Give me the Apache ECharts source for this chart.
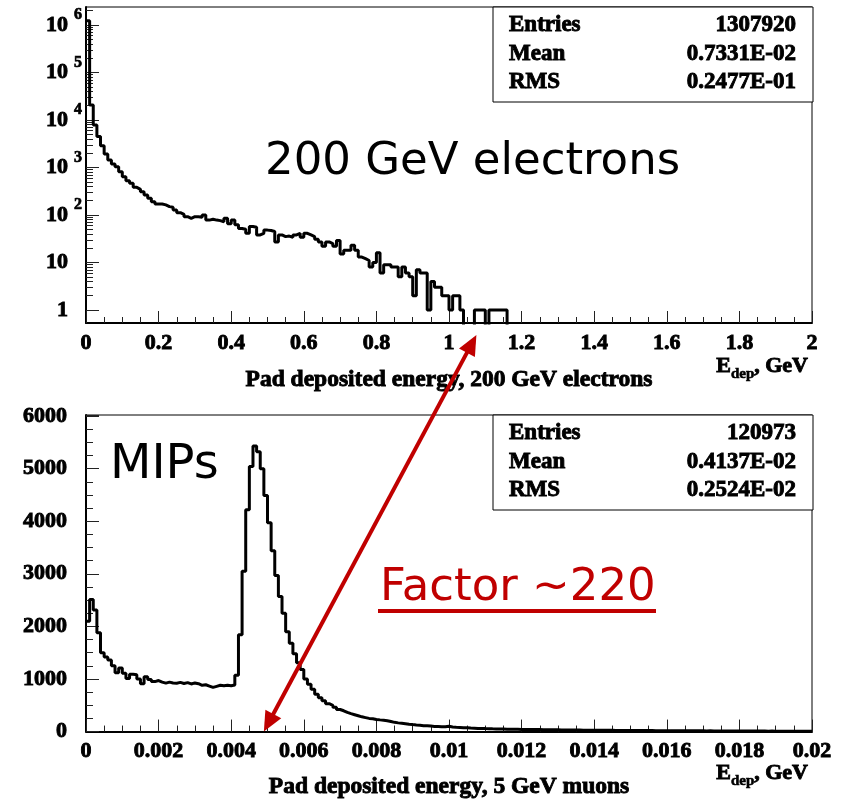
<!DOCTYPE html>
<html><head><meta charset="utf-8">
<script src="https://cdn.jsdelivr.net/npm/echarts@6/dist/echarts.min.js"></script>
<style>html,body{margin:0;padding:0;background:#fff}#c{width:846px;height:800px}</style>
</head><body><div id="c"></div>
<script>
// ---------- data ----------
const topBinWidth = 0.01;      // GeV, 200 bins on [0,2]
const topCounts = [
 1230000, 20700, 7850, 4470, 2880, 1920, 1440, 1185, 1040, 817,
 641, 527, 464, 382, 347, 310, 264, 224, 191, 170,
 170, 163, 150, 146, 127, 112, 103, 92, 85, 92,
 92, 90, 100, 78, 81, 78, 76, 72, 85, 65,
 78, 62, 52, 50, 41, 57, 55, 38, 41, 48,
 47, 45, 27, 38, 35, 36, 34, 38, 41, 34,
 41, 38, 35, 31, 27, 22, 27, 25, 22, 29,
 15, 18, 18, 23, 18, 13, 12, 11, 8, 10,
 16, 6, 9, 9, 8, 8, 5, 8, 6, 5,
 2, 7, 6, 6, 1, 4, 3, 3, 2, 2,
 1, 2, 2, 1, 0, 0, 0, 1, 1, 1,
 0, 1, 1, 1, 1, 1, 0, 0, 0, 0,
 0, 0, 0, 0, 0, 0, 0, 0, 0, 0,
 0, 0, 0, 0, 0, 0, 0, 0, 0, 0,
 0, 0, 0, 0, 0, 0, 0, 0, 0, 0,
 0, 0, 0, 0, 0, 0, 0, 0, 0, 0,
 0, 0, 0, 0, 0, 0, 0, 0, 0, 0,
 0, 0, 0, 0, 0, 0, 0, 0, 0, 0,
 0, 0, 0, 0, 0, 0, 0, 0, 0, 0,
 0, 0, 0, 0, 0, 0, 0, 0, 0, 0
];
const botBinWidth = 0.0001;    // GeV, 200 bins on [0,0.02]
const botCounts = [
 2100, 2510, 2310, 1880, 1500, 1420, 1360, 1250, 1120, 1210,
 1110, 1010, 1090, 1080, 1000, 910, 1040, 990, 950, 970,
 940, 920, 940, 925, 920, 935, 915, 930, 905, 925,
 910, 880, 890, 865, 840, 860, 880, 870, 880, 870,
 885, 1070, 1840, 3050, 4220, 5040, 5430, 5320, 5000, 4490,
 3970, 3440, 2970, 2570, 2250, 1900, 1680, 1480, 1310, 1180,
 1000, 900, 805, 710, 645, 585, 530, 500, 460, 420,
 395, 365, 340, 320, 300, 280, 265, 250, 245, 230,
 222, 215, 205, 190, 175, 165, 158, 150, 140, 132,
 125, 120, 112, 108, 104, 98, 95, 92, 90, 100,
 85, 80, 76, 72, 70, 66, 64, 60, 58, 56,
 55, 52, 50, 48, 47, 45, 46, 43, 42, 40,
 40, 41, 38, 37, 37, 35, 34, 36, 33, 32,
 31, 31, 30, 29, 29, 28, 27, 27, 26, 26,
 25, 24, 25, 23, 23, 22, 22, 21, 21, 20,
 20, 19, 20, 18, 18, 18, 17, 17, 16, 17,
 16, 15, 15, 15, 14, 14, 14, 13, 13, 13,
 12, 13, 12, 12, 11, 11, 11, 11, 10, 10,
 10, 10, 9, 10, 9, 9, 9, 8, 9, 8,
 8, 8, 8, 7, 8, 7, 7, 7, 7, 6
];
const topYMajor = [1, 10, 100, 1000, 10000, 100000, 1000000];
const topYMinor = [2,3,4,5,6,7,8,9, 20,30,40,50,60,70,80,90, 200,300,400,500,600,700,800,900,
  2000,3000,4000,5000,6000,7000,8000,9000, 20000,30000,40000,50000,60000,70000,80000,90000,
  200000,300000,400000,500000,600000,700000,800000,900000, 2000000];
const statNames = ['Entries', 'Mean', 'RMS'];
const topStats = ['1307920', '0.7331E-02', '0.2477E-01'];
const botStats = ['120973', '0.4137E-02', '0.2524E-02'];
const topXTitle = 'Pad deposited energy, 200 GeV electrons';
const botXTitle = 'Pad deposited energy, 5 GeV muons';
const topNote = '200 GeV electrons';
const botNote = 'MIPs';
const factorNote = 'Factor ~220';
const arrowTopX = 1.07;     // GeV on upper axis
const arrowBotX = 0.0049;   // GeV on lower axis

// ---------- build ----------
const SERIF = '"Liberation Serif", "Times New Roman", serif';
const HAND = '"DejaVu Sans", sans-serif';
const RED = '#c00000';
const TOPMIN = 0.532, TOPMAX = 2.39e6;
const BOLDW = 0.9;   // extra stroke to get the heavy ROOT bold look

function histData(counts, w, zeroTo) {
  const d = counts.map((c, i) => [i * w, (c === 0 && zeroTo != null) ? zeroTo : c]);
  const last = d[d.length - 1][1];
  d.push([counts.length * w, last]);
  return d;
}

const chart = echarts.init(document.getElementById('c'), null, {renderer: 'canvas'});
const lblFont = {fontFamily: SERIF, fontWeight: 'bold', fontSize: 22, color: '#000', textBorderColor: '#000', textBorderWidth: BOLDW};

const xCommon = {
  type: 'value',
  axisLine: {show: true, onZero: false, lineStyle: {color: '#000', width: 2}},
  axisTick: {show: true, inside: true, length: 12, lineStyle: {color: '#222', width: 1}},
  minorTick: {show: true, splitNumber: 4, length: 6, lineStyle: {color: '#222', width: 1}},
  splitLine: {show: false},
  axisLabel: Object.assign({margin: 9, showMinLabel: true, showMaxLabel: true, formatter: v => String(+v.toPrecision(6))}, lblFont),
  nameLocation: 'middle',
  nameTextStyle: Object.assign({}, lblFont, {fontSize: 23.5})
};

const option = {
  animation: false,
  backgroundColor: '#fff',
  grid: [
    {left: 86, top: 7, width: 726, height: 316, show: true, borderColor: '#000', borderWidth: 1, backgroundColor: 'transparent'},
    {left: 86, top: 415, width: 726, height: 317, show: true, borderColor: '#000', borderWidth: 1, backgroundColor: 'transparent'}
  ],
  xAxis: [
    Object.assign({}, xCommon, {gridIndex: 0, min: 0, max: 2, interval: 0.2, name: topXTitle, nameGap: 45}),
    Object.assign({}, xCommon, {gridIndex: 1, min: 0, max: 0.02, interval: 0.002, name: botXTitle, nameGap: 43})
  ],
  yAxis: [
    {
      gridIndex: 0, type: 'log', logBase: 10, min: TOPMIN, max: TOPMAX, position: 'left',
      axisLine: {show: true, lineStyle: {color: '#000', width: 2}},
      axisTick: {show: true, inside: true, length: 13, customValues: topYMajor, lineStyle: {color: '#222'}},
      splitLine: {show: false},
      axisLabel: {
        customValues: topYMajor, margin: 4,
        formatter: function (v) {
          const e = Math.round(Math.log10(v));
          if (e === 0) return '{b|1}{sp|}';
          if (e === 1) return '{b|10}{sp|}';
          return '{b|10}{sup|' + e + '}';
        },
        rich: {
          b: {fontFamily: SERIF, fontWeight: 'bold', fontSize: 22, color: '#000', textBorderColor: '#000', textBorderWidth: BOLDW},
          sup: {fontFamily: SERIF, fontWeight: 'bold', fontSize: 16, color: '#000', textBorderColor: '#000', textBorderWidth: 0.7, padding: [0, 0, 20, 6]},
          sp: {width: 14}
        }
      }
    },
    {
      gridIndex: 0, type: 'log', logBase: 10, min: TOPMIN, max: TOPMAX, position: 'left', offset: 0,
      axisLine: {show: false},
      axisTick: {show: true, inside: true, length: 7, customValues: topYMinor, lineStyle: {color: '#222'}},
      axisLabel: {show: false}, splitLine: {show: false}
    },
    {
      gridIndex: 1, type: 'value', min: 0, max: 6020, interval: 1000, position: 'left',
      axisLine: {show: true, onZero: false, lineStyle: {color: '#000', width: 2}},
      axisTick: {show: true, inside: true, length: 13, lineStyle: {color: '#222'}},
      minorTick: {show: true, splitNumber: 4, length: 7, lineStyle: {color: '#222'}},
      splitLine: {show: false},
      axisLabel: Object.assign({margin: 19, showMaxLabel: false, formatter: v => String(Math.round(v))}, lblFont)
    }
  ],
  series: [
    {
      type: 'line', xAxisIndex: 0, yAxisIndex: 0, step: 'end', showSymbol: false, symbol: 'none',
      data: histData(topCounts, topBinWidth, 0.05), clip: true,
      lineStyle: {color: '#000', width: 3}
    },
    {
      type: 'line', xAxisIndex: 1, yAxisIndex: 2, step: 'end', showSymbol: false, symbol: 'none',
      data: histData(botCounts, botBinWidth, null), clip: true,
      lineStyle: {color: '#000', width: 3}
    }
  ]
};
chart.setOption(option);

// ---------- annotations ----------
const g = [];
function statsBox(x0, y0, values) {
  g.push({type: 'rect', shape: {x: x0, y: y0, width: 320, height: 95}, style: {fill: '#fff', stroke: '#000', lineWidth: 1}, z: 10});
  statNames.forEach((n, i) => {
    const yy = y0 + 18 + i * 28.7;
    g.push({type: 'text', z: 11, style: {text: n, x: x0 + 16, y: yy, align: 'left', verticalAlign: 'middle',
      fontFamily: SERIF, fontWeight: 'bold', fontSize: 23, fill: '#000', stroke: '#000', lineWidth: BOLDW}});
    g.push({type: 'text', z: 11, style: {text: values[i], x: x0 + 303, y: yy, align: 'right', verticalAlign: 'middle',
      fontFamily: SERIF, fontWeight: 'bold', fontSize: 23, fill: '#000', stroke: '#000', lineWidth: BOLDW}});
  });
}
statsBox(493, 7, topStats);
statsBox(493, 415, botStats);

function edep(y) {
  g.push({type: 'text', z: 11, style: {
    text: '{e|E}{d|dep}{e|, GeV}', x: 808, y: y, align: 'right', verticalAlign: 'middle',
    rich: {
      e: {fontFamily: SERIF, fontWeight: 'bold', fontSize: 22, fill: '#000', stroke: '#000', lineWidth: BOLDW},
      d: {fontFamily: SERIF, fontWeight: 'bold', fontSize: 15, fill: '#000', stroke: '#000', lineWidth: 0.6, padding: [16, 0, 0, 0]}
    }}});
}
edep(366);
edep(773);

g.push({type: 'text', z: 11, style: {text: topNote, x: 265, y: 162, align: 'left', verticalAlign: 'middle',
  fontFamily: HAND, fontSize: 45, fill: '#000'}});
g.push({type: 'text', z: 11, style: {text: botNote, x: 110, y: 466, align: 'left', verticalAlign: 'middle',
  fontFamily: HAND, fontSize: 48, fill: '#000'}});
g.push({type: 'text', z: 11, style: {text: factorNote, x: 380, y: 588, align: 'left', verticalAlign: 'middle',
  fontFamily: HAND, fontSize: 45, fill: RED}});
g.push({type: 'line', z: 11, shape: {x1: 378, y1: 611, x2: 656, y2: 611}, style: {stroke: RED, lineWidth: 4}});

// double arrow between the two energy scales
const pTop = chart.convertToPixel({xAxisIndex: 0}, arrowTopX);
const pBot = chart.convertToPixel({xAxisIndex: 1, yAxisIndex: 2}, [arrowBotX, 0]);
const A = [pTop + 2, 335], B = pBot;
const dx = B[0] - A[0], dy = B[1] - A[1], len = Math.hypot(dx, dy);
const ux = dx / len, uy = dy / len, nx = -uy, ny = ux;
const L = 20, W = 9;
g.push({type: 'line', z: 12, shape: {x1: A[0] + ux * L * 0.8, y1: A[1] + uy * L * 0.8, x2: B[0] - ux * L * 0.8, y2: B[1] - uy * L * 0.8},
  style: {stroke: RED, lineWidth: 4}});
g.push({type: 'polygon', z: 12, shape: {points: [[B[0], B[1]], [B[0] - ux * L + nx * W, B[1] - uy * L + ny * W], [B[0] - ux * L - nx * W, B[1] - uy * L - ny * W]]},
  style: {fill: RED}});
g.push({type: 'polygon', z: 12, shape: {points: [[A[0], A[1]], [A[0] + ux * L + nx * W, A[1] + uy * L + ny * W], [A[0] + ux * L - nx * W, A[1] + uy * L - ny * W]]},
  style: {fill: RED}});

chart.setOption({graphic: g});
</script></body></html>
